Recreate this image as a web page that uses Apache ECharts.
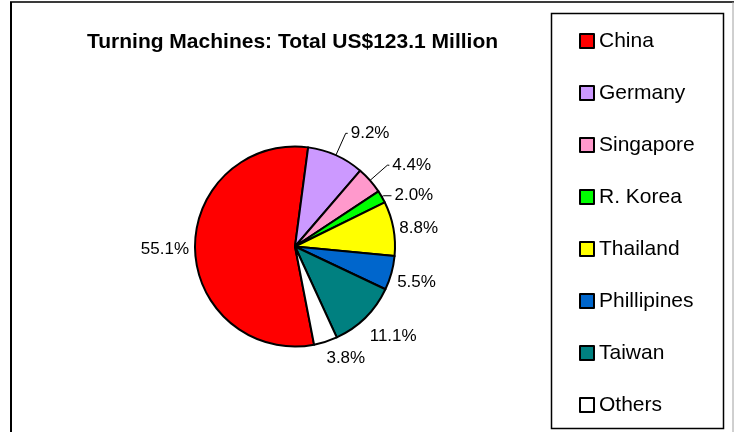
<!DOCTYPE html>
<html>
<head>
<meta charset="utf-8">
<script src="https://cdn.jsdelivr.net/npm/echarts@6/dist/echarts.min.js"></script>
<style>
html,body{margin:0;padding:0;background:#fff;}
#chart{width:734px;height:432px;}
</style>
</head>
<body>
<div id="chart"></div>
<script>
const titleText = 'Turning Machines: Total US$123.1 Million';
const categories = ['China', 'Germany', 'Singapore', 'R. Korea', 'Thailand', 'Phillipines', 'Taiwan', 'Others'];
const shares = [55.1, 9.2, 4.4, 2.0, 8.8, 5.5, 11.1, 3.8];
const colors = ['#FF0000', '#CC99FF', '#FF99CC', '#00FF00', '#FFFF00', '#0066CC', '#008080', '#FFFFFF'];

// per-slice label placement style (line lengths and visibility)
const lineLen  = [1, 24, 23, 2, 1, 35, 27, 17.6];
const lineLen2 = [2, 2, 2, 8, 2, -31, -17.6, -7.6];
const showLine = [false, true, true, true, false, false, false, false];

const labelFont = "'Liberation Sans', Arial, sans-serif";

const data = categories.map((name, i) => ({
  name: name,
  value: shares[i],
  itemStyle: { color: colors[i] },
  labelLine: { show: showLine[i], length: lineLen[i], length2: lineLen2[i] }
}));

const chart = echarts.init(document.getElementById('chart'), null, { renderer: 'canvas' });
chart.setOption({
  animation: false,
  backgroundColor: '#ffffff',
  graphic: [
    { type: 'line', shape: { x1: 10, y1: 2, x2: 734, y2: 2 }, style: { stroke: '#3a3a3a', lineWidth: 2 } },
    { type: 'line', shape: { x1: 11, y1: 2, x2: 11, y2: 432 }, style: { stroke: '#000', lineWidth: 2 } },
    { type: 'line', shape: { x1: 733, y1: 2, x2: 733, y2: 432 }, style: { stroke: '#a0a0a0', lineWidth: 1 } },
    { type: 'rect', shape: { x: 551.5, y: 13.5, width: 172, height: 415 }, style: { fill: 'none', stroke: '#000', lineWidth: 1.5 } },
    { type: 'text', x: 292.5, y: 42, style: { text: titleText, align: 'center', verticalAlign: 'middle', fontSize: 21, fontWeight: 'bold', fontFamily: "'Liberation Sans', Arial, sans-serif", fill: '#000' } }
  ],
  legend: {
    orient: 'vertical',
    left: 579,
    top: 29,
    padding: 0,
    itemWidth: 14,
    itemHeight: 14,
    itemGap: 28,
    itemTextGap: 5,
    icon: 'rect',
    data: categories,
    itemStyle: { borderColor: '#000', borderWidth: 2 },
    textStyle: { fontSize: 21, lineHeight: 24, color: '#000', fontFamily: "'Liberation Sans', Arial, sans-serif" }
  },
  series: [{
    type: 'pie',
    center: [295, 246.5],
    radius: 100,
    startAngle: 281,
    clockwise: true,
    avoidLabelOverlap: false,
    itemStyle: { borderColor: '#000', borderWidth: 2 },
    label: {
      show: true,
      position: 'outside',
      formatter: p => p.value.toFixed(1) + '%',
      fontSize: 17,
      color: '#000',
      fontFamily: labelFont,
      distanceToLabelLine: 3
    },
    labelLine: { lineStyle: { color: '#000', width: 1 }, smooth: false },
    emphasis: { disabled: true },
    data: data
  }]
});
</script>
</body>
</html>
